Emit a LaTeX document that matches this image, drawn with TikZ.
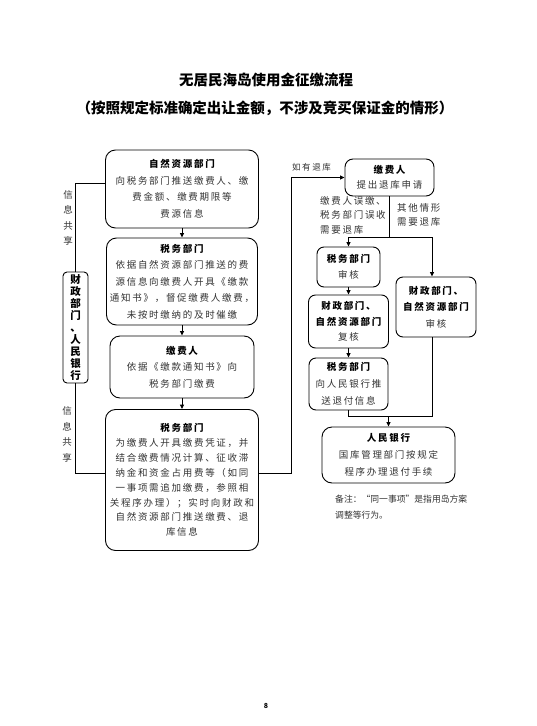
\documentclass[tikz,border=0pt]{standalone}
\usepackage{fontspec}
\setmainfont{Noto Sans CJK SC}
\newfontfamily\cjk[LetterSpace=18]{Noto Sans CJK SC}
\usetikzlibrary{arrows.meta}
\begin{document}
\begin{tikzpicture}[x=1pt,y=-1pt,
  box/.style={draw, line width=0.9pt, rounded corners=10pt, align=center, inner sep=0pt,
    font=\cjk\fontsize{9.5}{16.5}\selectfont, text=black!80},
  sbox/.style={box, rounded corners=7pt},
  hd/.style={},
  arr/.style={line width=0.9pt, -{Triangle[length=4.5pt,width=4pt]}},
  ln/.style={line width=0.9pt},
  lbl/.style={inner sep=0pt, font=\cjk\fontsize{9.5}{14.5}\selectfont, text=black!80},
  vlbl/.style={inner sep=0pt, align=center, font=\cjk\fontsize{9.5}{15.5}\selectfont, text=black!80}
]
\newcommand{\hdr}[1]{{\bfseries\color{black}#1}}
\useasboundingbox (0,0) rectangle (536,726);
\fill[white] (0,0) rectangle (536,726);

% titles
\node[font=\bfseries\fontsize{14.5}{16}\selectfont] (t1) at (266,80) {无居民海岛使用金征缴流程};
\node[font=\bfseries\fontsize{14.5}{16}\selectfont] (t2) at (265,108) {（按照规定标准确定出让金额，不涉及竞买保证金的情形）};

% left column
\node[box, minimum width=153pt, minimum height=78pt] (b1) at (182,189)
  {\hdr{自然资源部门}\\向税务部门推送缴费人、缴\\费金额、缴费期限等\\费源信息};
\node[box, minimum width=151pt, minimum height=87pt] (b2) at (182,281.5)
  {\hdr{税务部门}\\依据自然资源部门推送的费\\源信息向缴费人开具《缴款\\通知书》，督促缴费人缴费，\\未按时缴纳的及时催缴};
\node[box, minimum width=144pt, minimum height=62pt] (b3) at (182,367)
  {\hdr{缴费人}\\依据《缴款通知书》向\\税务部门缴费};
\node[box, minimum width=153pt, minimum height=141pt, font=\cjk\fontsize{9.5}{14.9}\selectfont] (b4) at (182,480)
  {\hdr{税务部门}\\为缴费人开具缴费凭证，并\\结合缴费情况计算、征收滞\\纳金和资金占用费等（如同\\一事项需追加缴费，参照相\\关程序办理）；实时向财政和\\自然资源部门推送缴费、退\\库信息};

\node[draw, line width=0.9pt, rounded corners=4pt, inner sep=0pt, align=center,
  minimum width=25pt, minimum height=111pt,
  font=\bfseries\fontsize{10.5}{12}\selectfont] (side) at (75.5,327.5)
  {财\\政\\部\\门\\、\\人\\民\\银\\行};

\node[vlbl] (v1) at (68,218) {信\\息\\共\\享};
\node[vlbl] (v2) at (67,434.5) {信\\息\\共\\享};

\draw[arr] (b1.south) -- (b2.north);
\draw[arr] (b2.south) -- (b3.north);
\draw[arr] (b3.south) -- (b4.north);
\draw[ln] (side.north) |- ([yshift=6pt]b1.west);
\draw[ln] (side.south) |- ([yshift=7pt]b4.west);

% right column
\node[box, rounded corners=8pt, minimum width=89pt, minimum height=37pt, font=\cjk\fontsize{9.5}{14.5}\selectfont] (rp) at (389.5,177.5)
  {\hdr{缴费人}\\提出退库申请};
\node[sbox, minimum width=63pt, minimum height=40pt, font=\cjk\fontsize{9.5}{15.5}\selectfont] (rt) at (348.5,267)
  {\hdr{税务部门}\\审核};
\node[sbox, minimum width=80pt, minimum height=53pt, font=\cjk\fontsize{9.5}{15.5}\selectfont] (rf) at (348.5,321.5)
  {\hdr{财政部门、}\\\hdr{自然资源部门}\\复核};
\node[sbox, minimum width=79pt, minimum height=52pt, font=\cjk\fontsize{9.5}{17}\selectfont] (rt2) at (348.5,384)
  {\hdr{税务部门}\\向人民银行推\\送退付信息};
\node[sbox, minimum width=80pt, minimum height=60pt, font=\cjk\fontsize{9.5}{16.5}\selectfont] (rf2) at (436,307)
  {\hdr{财政部门、}\\\hdr{自然资源部门}\\审核};
\node[box, minimum width=133pt, minimum height=56pt, font=\cjk\fontsize{9.5}{17}\selectfont] (bank) at (388.5,455)
  {\hdr{人民银行}\\国库管理部门按规定\\程序办理退付手续};

\coordinate (sp) at (389.5,237);
\coordinate (mg) at (388.5,416);

\draw[arr] ([yshift=7pt]b4.east) -- ++(32,0) |- (rp.west);
\node[lbl, anchor=south west, font=\cjk\fontsize{8.5}{10}\selectfont] (ry) at (292,171) {如有退库};

\draw[ln] (rp.south) -- (sp);
\draw[arr] (sp) -| (rt.north);
\draw[arr] (sp) -| ([xshift=-4pt]rf2.north);
\node[lbl, align=left, anchor=north west] (l1) at (320,196) {缴费人误缴、\\税务部门误收\\需要退库};
\node[lbl, align=left, anchor=north west] (l2) at (397,203) {其他情形\\需要退库};

\draw[arr] (rt.south) -- (rf.north);
\draw[arr] (rf.south) -- (rt2.north);
\draw[ln] (rt2.south) |- (mg);
\draw[ln] ([xshift=-4pt]rf2.south) |- (mg);
\draw[arr] (mg) -- (bank.north);

\node[lbl, align=left, anchor=north west, font=\fontsize{8.8}{16}\selectfont] (note) at (335,495)
  {备注：“同一事项”是指用岛方案\\调整等行为。};

\node[font=\bfseries\fontsize{7}{8}\selectfont] (pg) at (266,706) {8};
\end{tikzpicture}
\end{document}
